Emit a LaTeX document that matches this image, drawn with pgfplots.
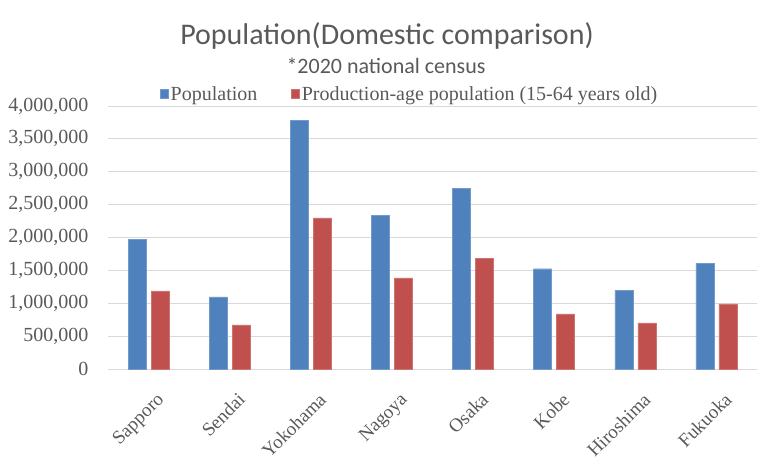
\documentclass[border=0pt]{standalone}
\usepackage{fontspec}
\setmainfont{Liberation Serif}
\newfontfamily\titlefont{Carlito}
\usepackage{pgfplots}
\pgfplotsset{compat=1.18}

\definecolor{popblue}{HTML}{4F81BD}
\definecolor{prodred}{HTML}{C0504D}
\definecolor{gridgray}{HTML}{D9D9D9}
\definecolor{txtgray}{HTML}{595959}

\begin{document}
\begin{tikzpicture}[x=1pt,y=1pt]
\path[use as bounding box] (0,0) rectangle (777,464);
\node[txtgray, font=\titlefont\fontsize{30}{30}\selectfont] at (387,428) {Population(Domestic comparison)};
\node[txtgray, font=\titlefont\fontsize{22}{22}\selectfont] at (386,398) {*2020 national census};
\begin{axis}[
    at={(108pt,95pt)}, anchor=south west,
    scale only axis,
    width=649pt, height=263pt,
    ybar=5pt,
    bar width=18pt,
    xmin=-0.5, xmax=7.5,
    ymin=0, ymax=4000000,
    xtick=data,
    xticklabels={Sapporo,Sendai,Yokohama,Nagoya,Osaka,Kobe,Hiroshima,Fukuoka},
    xticklabel style={rotate=45, anchor=north east, inner sep=1pt, yshift=-20pt, xshift=-10pt,
        font=\fontsize{19}{19}\selectfont},
    ytick={0,500000,...,4000000},
    scaled y ticks=false,
    /pgf/number format/.cd, fixed, 1000 sep={,}, assume math mode=true,
    /pgfplots/.cd,
    ymajorgrids=true,
    grid style={gridgray, line width=1pt},
    axis x line*=bottom,
    axis y line*=left,
    y axis line style={draw=none},
    x axis line style={gridgray, line width=1pt, -},
    major tick length=0pt,
    tick label style={txtgray},
    yticklabel style={anchor=east, xshift=-16pt, font=\fontsize{20}{20}\selectfont},
    legend columns=2,
    legend style={at={(0.465,1.0)}, anchor=south, draw=none, fill=none,
        font=\fontsize{20}{20}\selectfont, text=txtgray,
        /tikz/every even column/.append style={column sep=32pt}},
    legend image code/.code={\fill (0pt,-4pt) rectangle (8pt,5pt);},
]
\addplot[fill=popblue, draw=popblue!80!white] coordinates {
    (0,1973000) (1,1097000) (2,3777000) (3,2332000)
    (4,2752000) (5,1525000) (6,1200000) (7,1612000)};
\addplot[fill=prodred, draw=prodred!80!white] coordinates {
    (0,1188000) (1,670000) (2,2298000) (3,1385000)
    (4,1688000) (5,838000) (6,700000) (7,990000)};
\legend{Population,Production-age population (15-64 years old)}
\end{axis}
\end{tikzpicture}
\end{document}
